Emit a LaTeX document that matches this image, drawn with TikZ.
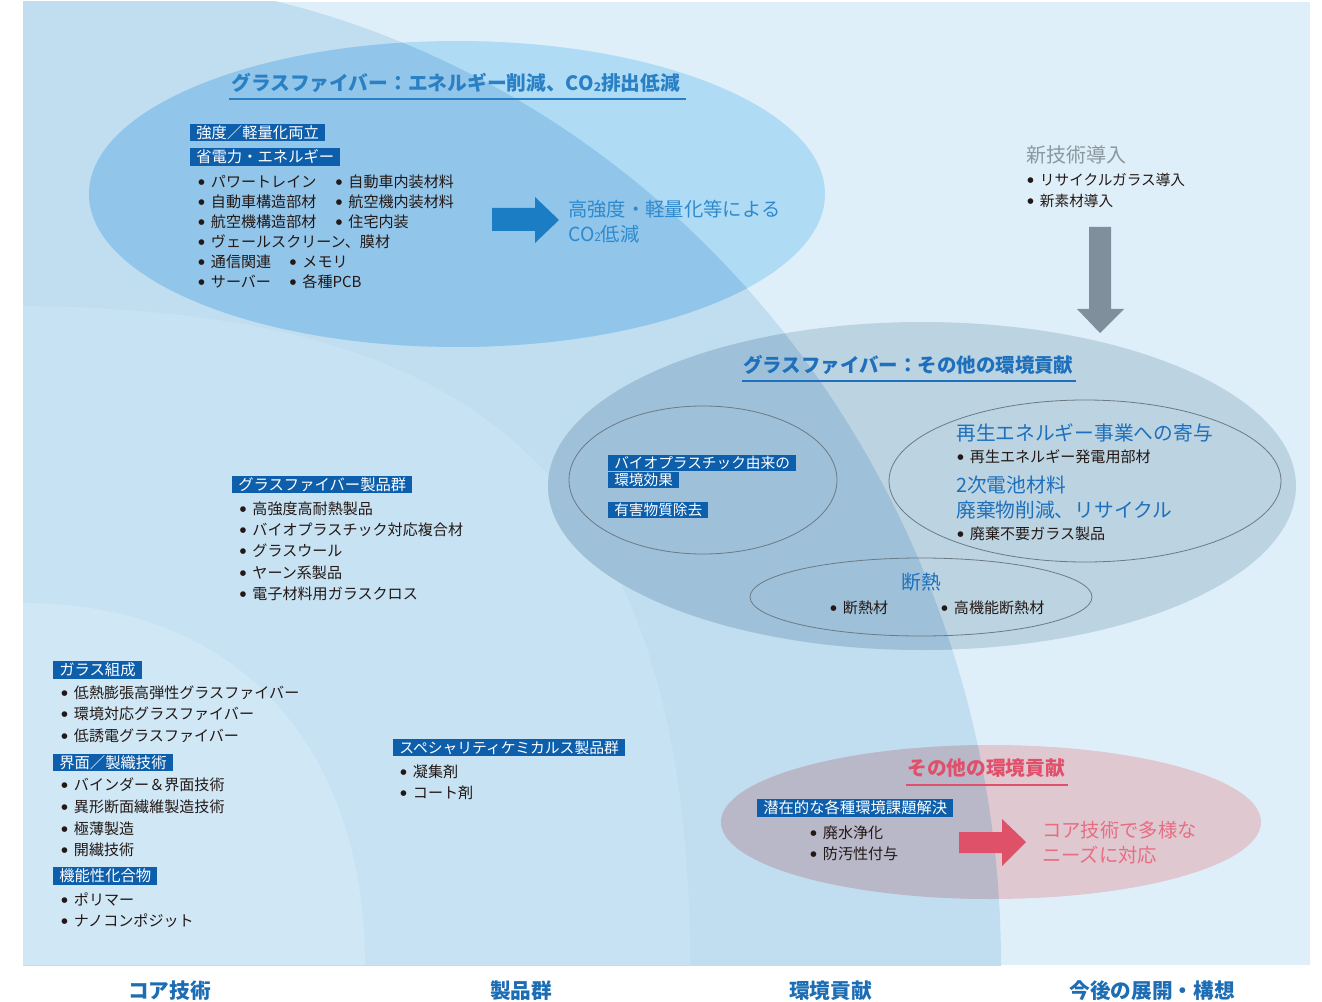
\documentclass[tikz,border=0pt]{standalone}
\usepackage{fontspec}
\setmainfont{Noto Sans CJK JP}
\newfontfamily\dvs{DejaVu Sans}
\definecolor{bgright}{HTML}{DFEFFA}
\definecolor{bigc}{HTML}{C1DEF1}
\definecolor{midc}{HTML}{C7E2F3}
\definecolor{smallc}{HTML}{D0E7F6}
\definecolor{topout}{HTML}{AFDBF5}
\definecolor{topin}{HTML}{91C5EA}
\definecolor{grayout}{HTML}{BCD3E1}
\definecolor{grayin}{HTML}{9EC0D8}
\definecolor{pinkout}{HTML}{E0C8D0}
\definecolor{pinkin}{HTML}{B9B8C9}
\definecolor{boxblue}{HTML}{0D5EAB}
\definecolor{titleblue}{HTML}{2A80C4}
\definecolor{headblue}{HTML}{1E70BC}
\definecolor{lightblue}{HTML}{2E8ACD}
\definecolor{graytext}{HTML}{8A979F}
\definecolor{arrowblue}{HTML}{1B7DC4}
\definecolor{arrowgray}{HTML}{7F909C}
\definecolor{arrowpink}{HTML}{DE5169}
\definecolor{pinktext}{HTML}{E76D83}
\definecolor{pinktitle}{HTML}{E0506B}
\definecolor{bottomblue}{HTML}{1C6DB4}
\definecolor{inktext}{HTML}{231815}
\definecolor{ringgray}{HTML}{6C7A84}
\newcommand{\bul}{\makebox[9.5pt][l]{\raisebox{2.2pt}{\dvs\fontsize{5.5}{6}\selectfont ●}}}
\newcommand{\cotwo}{CO\raisebox{-0.5pt}{\fontsize{9}{10}\selectfont 2}}
\begin{document}
\begin{tikzpicture}[x=0.75pt,y=-0.75pt,
  every node/.style={inner sep=0pt, anchor=west},
  lbox/.style={fill=boxblue, text=white, font=\fontsize{11.5}{12}\selectfont, inner xsep=4.5pt, minimum height=12.8pt},
  item/.style={text=inktext, font=\fontsize{11.3}{12}\selectfont},
  bigtitle/.style={text=titleblue, font=\bfseries\fontsize{14.8}{16}\selectfont},
  heading/.style={text=headblue, font=\fontsize{14.8}{16}\selectfont},
  bottomlabel/.style={anchor=center, text=bottomblue, font=\bfseries\fontsize{15.5}{16}\selectfont},
  ring/.style={draw=ringgray, line width=0.6pt}]
\useasboundingbox (0,0) rectangle (1322,1002);
\fill[white] (0,0) rectangle (1322,1002);
\begin{scope}
  \clip (23,2) rectangle (1310,965);
  \fill[bgright] (23,2) rectangle (1310,965);
  \fill[bigc] (60,965) ellipse [x radius=941, y radius=990];
  \fill[midc] (23,306) .. controls (450,310) and (690,450) .. (690,965) -- (23,965) -- cycle;
  \fill[smallc] (23,603) .. controls (250,603) and (365,760) .. (365,965) -- (23,965) -- cycle;
  % top ellipse
  \fill[topout] (457,194) ellipse [x radius=368, y radius=153];
  \begin{scope}
    \clip (60,965) ellipse [x radius=941, y radius=990];
    \fill[topin] (457,194) ellipse [x radius=368, y radius=153];
  \end{scope}
  % gray ellipse
  \fill[grayout] (922,486) ellipse [x radius=374, y radius=164];
  \begin{scope}
    \clip (60,965) ellipse [x radius=941, y radius=990];
    \fill[grayin] (922,486) ellipse [x radius=374, y radius=164];
  \end{scope}
  % pink ellipse
  \fill[pinkout] (991,822) ellipse [x radius=270, y radius=77];
  \begin{scope}
    \clip (60,965) ellipse [x radius=941, y radius=990];
    \fill[pinkin] (991,822) ellipse [x radius=270, y radius=77];
  \end{scope}
\end{scope}
% inner rings
\draw[ring] (703,480) ellipse [x radius=134, y radius=74];
\draw[ring] (1085,481) ellipse [x radius=196, y radius=81];
\draw[ring] (921,597) ellipse [x radius=171, y radius=39];
% arrows
\fill[arrowblue] (492,208) -- (535,208) -- (535,197) -- (559,220) -- (535,243) -- (535,231) -- (492,231) -- cycle;
\fill[arrowgray] (1089,227) -- (1111,227) -- (1111,309) -- (1124,309) -- (1100,333) -- (1077,309) -- (1089,309) -- cycle;
\fill[arrowpink] (959,832) -- (1002,832) -- (1002,819) -- (1026,842) -- (1002,866) -- (1002,853) -- (959,853) -- cycle;

% ---- top ellipse texts
\node[bigtitle] (t1) at (231,83) {グラスファイバー：エネルギー削減、\cotwo 排出低減};
\draw[titleblue, line width=1.5pt] (229,99) -- (686,99);
\node[lbox] (b1) at (190,132.5) {強度／軽量化両立};
\node[lbox] (b2) at (190,157) {省電力・エネルギー};
\node[item] (i1) at (198,182) {\bul パワートレイン};
\node[item] (i2) at (198,202) {\bul 自動車構造部材};
\node[item] (i3) at (198,222) {\bul 航空機構造部材};
\node[item] (i4) at (198,242) {\bul ヴェールスクリーン、膜材};
\node[item] (i5) at (198,262) {\bul 通信関連};
\node[item] (i6) at (198,282) {\bul サーバー};
\node[item] (j1) at (335.5,182) {\bul 自動車内装材料};
\node[item] (j2) at (335.5,202) {\bul 航空機内装材料};
\node[item] (j3) at (335.5,222) {\bul 住宅内装};
\node[item] (j5) at (289.5,262) {\bul メモリ};
\node[item] (j6) at (289.5,282) {\bul 各種PCB};
\node[heading, text=lightblue, font=\fontsize{14.5}{16}\selectfont] (r1) at (568,209) {高強度・軽量化等による};
\node[heading, text=lightblue, font=\fontsize{14.5}{16}\selectfont] (r2) at (568,234) {\cotwo 低減};

% ---- new tech
\node[text=graytext, font=\fontsize{15}{16}\selectfont] (n0) at (1026,155) {新技術導入};
\node[item, font=\fontsize{11}{12}\selectfont] (n1) at (1027,180) {\bul リサイクルガラス導入};
\node[item, font=\fontsize{11}{12}\selectfont] (n2) at (1027,201) {\bul 新素材導入};

% ---- gray ellipse texts
\node[bigtitle, text=headblue, font=\bfseries\fontsize{14.6}{16}\selectfont] (t2) at (743,365) {グラスファイバー：その他の環境貢献};
\draw[headblue, line width=1.5pt] (742,381) -- (1076,381);
\node[lbox, minimum height=12pt, font=\fontsize{11}{12}\selectfont] (g1) at (608,463) {バイオプラスチック由来の};
\node[lbox, minimum height=12pt, font=\fontsize{11}{12}\selectfont] (g2) at (608,479.5) {環境効果};
\node[lbox, minimum height=12pt, font=\fontsize{11}{12}\selectfont] (g3) at (608,510) {有害物質除去};
\node[heading] (h1) at (956,433) {再生エネルギー事業への寄与};
\node[item] (k1) at (957,457) {\bul 再生エネルギー発電用部材};
\node[heading] (h2) at (956,485) {2次電池材料};
\node[heading] (h3) at (956,510) {廃棄物削減、リサイクル};
\node[item] (k2) at (957,534) {\bul 廃棄不要ガラス製品};
\node[heading, anchor=center] (h4) at (921,582) {断熱};
\node[item] (k3) at (830,608) {\bul 断熱材};
\node[item] (k4) at (941,608) {\bul 高機能断熱材};

% ---- product group
\node[lbox] (p0) at (232,484.5) {グラスファイバー製品群};
\node[item] (p1) at (239.5,509) {\bul 高強度高耐熱製品};
\node[item] (p2) at (239.5,530) {\bul バイオプラスチック対応複合材};
\node[item] (p3) at (239.5,551) {\bul グラスウール};
\node[item] (p4) at (239.5,572.5) {\bul ヤーン系製品};
\node[item] (p5) at (239.5,594) {\bul 電子材料用ガラスクロス};

% ---- core tech
\node[lbox] (c0) at (53,670) {ガラス組成};
\node[item] (c1) at (61,692.5) {\bul 低熱膨張高弾性グラスファイバー};
\node[item] (c2) at (61,714) {\bul 環境対応グラスファイバー};
\node[item] (c3) at (61,735.5) {\bul 低誘電グラスファイバー};
\node[lbox] (c4) at (53,762.5) {界面／製織技術};
\node[item] (c5) at (61,785) {\bul バインダー＆界面技術};
\node[item] (c6) at (61,807) {\bul 異形断面繊維製造技術};
\node[item] (c7) at (61,828.5) {\bul 極薄製造};
\node[item] (c8) at (61,850) {\bul 開繊技術};
\node[lbox] (c9) at (53,876) {機能性化合物};
\node[item] (c10) at (61,899) {\bul ポリマー};
\node[item] (c11) at (61,921) {\bul ナノコンポジット};

% ---- specialty chemicals
\node[lbox, font=\fontsize{11.1}{12}\selectfont] (s0) at (393,747.5) {スペシャリティケミカルス製品群};
\node[item] (s1) at (400,771.5) {\bul 凝集剤};
\node[item] (s2) at (400,792.5) {\bul コート剤};

% ---- pink ellipse texts
\node[text=pinktitle, font=\bfseries\fontsize{14.8}{16}\selectfont] (q0) at (907,768) {その他の環境貢献};
\draw[pinktitle, line width=1.5pt] (906,785) -- (1068,785);
\node[lbox] (q1) at (757,808) {潜在的な各種環境課題解決};
\node[item] (q2) at (810,832.5) {\bul 廃水浄化};
\node[item] (q3) at (810,854) {\bul 防汚性付与};
\node[text=pinktext, font=\fontsize{14.5}{16}\selectfont] (q4) at (1042,830) {コア技術で多様な};
\node[text=pinktext, font=\fontsize{14.5}{16}\selectfont] (q5) at (1042,855) {ニーズに対応};

% ---- bottom labels
\node[bottomlabel] (L1) at (169.5,991) {コア技術};
\node[bottomlabel] (L2) at (521,991) {製品群};
\node[bottomlabel] (L3) at (830.5,991) {環境貢献};
\node[bottomlabel] (L4) at (1152,991) {今後の展開・構想};
\end{tikzpicture}
\end{document}
